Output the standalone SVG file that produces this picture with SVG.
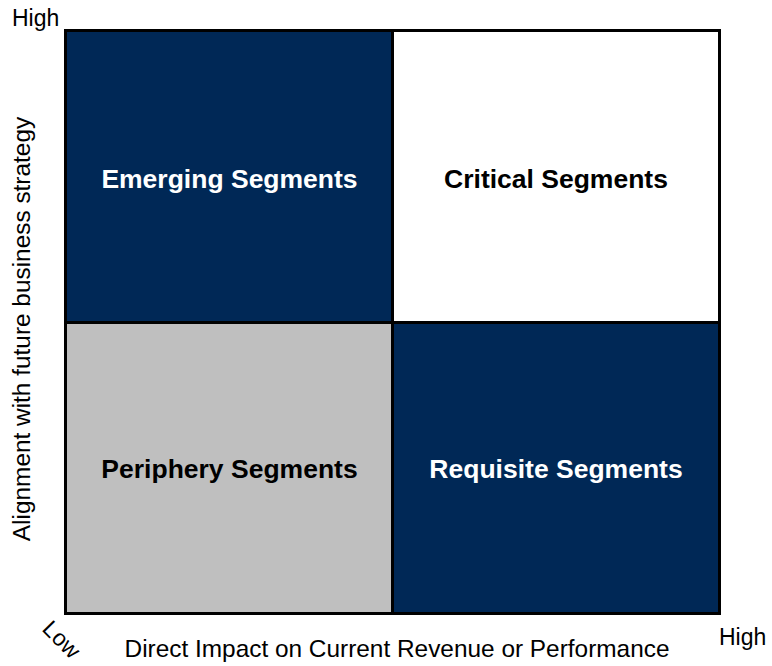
<svg xmlns="http://www.w3.org/2000/svg" width="772" height="666" viewBox="0 0 772 666">
  <style>
    .quad { stroke: #000000; stroke-width: 3; }
    .navy { fill: #002856; }
    .white { fill: #ffffff; }
    .grey { fill: #bfbfbf; }
    .qlabel { font-family: "Liberation Sans", Arial, sans-serif; font-size: 26.5px; font-weight: bold; text-anchor: middle; }
    .axis { font-family: "Liberation Sans", Arial, sans-serif; font-size: 23px; fill: #000000; }
    .title { font-size: 24.4px; text-anchor: middle; }
  </style>
  <rect width="772" height="666" fill="#ffffff"/>

  <!-- 2x2 segment matrix -->
  <g id="emerging">
    <rect class="quad navy" x="65.5" y="30.5" width="327" height="292"/>
    <text class="qlabel" x="229.5" y="188" fill="#ffffff">Emerging Segments</text>
  </g>
  <g id="critical">
    <rect class="quad white" x="392.5" y="30.5" width="327" height="292"/>
    <text class="qlabel" x="556" y="188" fill="#000000">Critical Segments</text>
  </g>
  <g id="periphery">
    <rect class="quad grey" x="65.5" y="322.5" width="327" height="291"/>
    <text class="qlabel" x="229.5" y="478" fill="#000000">Periphery Segments</text>
  </g>
  <g id="requisite">
    <rect class="quad navy" x="392.5" y="322.5" width="327" height="291"/>
    <text class="qlabel" x="556" y="478" fill="#ffffff">Requisite Segments</text>
  </g>

  <!-- axis labels -->
  <g id="axes">
    <text class="axis" x="12" y="26">High</text>
    <text class="axis" x="719" y="645">High</text>
    <text class="axis" text-anchor="middle" transform="translate(56,645) rotate(45)">Low</text>
    <text class="axis title" x="397" y="657">Direct Impact on Current Revenue or Performance</text>
    <text class="axis title" transform="translate(30,329) rotate(-90)">Alignment with future business strategy</text>
  </g>
</svg>
